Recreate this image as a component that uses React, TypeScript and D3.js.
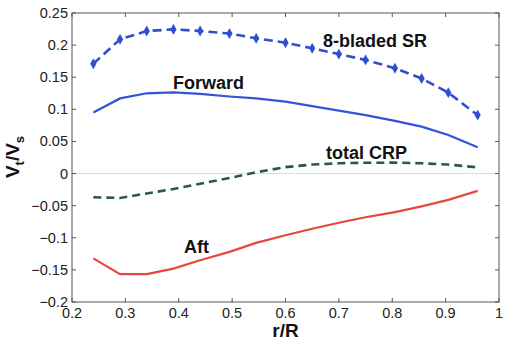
import { useEffect, useRef } from 'react';
import * as d3 from 'd3';

// r/R stations
const rR = [0.24, 0.29, 0.34, 0.39, 0.44, 0.495, 0.545, 0.6, 0.65, 0.7, 0.75, 0.805, 0.855, 0.905, 0.96];
// Vt/Vs for each curve
const sr8 = [0.171, 0.209, 0.222, 0.2245, 0.222, 0.218, 0.2106, 0.2037, 0.195, 0.186, 0.177, 0.164, 0.148, 0.126, 0.091];
const forward = [0.095, 0.117, 0.125, 0.1265, 0.124, 0.12, 0.117, 0.112, 0.105, 0.098, 0.091, 0.082, 0.073, 0.06, 0.041];
const totalCRP = [-0.037, -0.038, -0.031, -0.024, -0.016, -0.007, 0.002, 0.01, 0.014, 0.016, 0.0168, 0.017, 0.016, 0.014, 0.0097];
const aft = [-0.132, -0.1566, -0.1566, -0.148, -0.135, -0.122, -0.108, -0.096, -0.086, -0.0766, -0.068, -0.06, -0.051, -0.041, -0.027];

const xTicks = [0.2, 0.3, 0.4, 0.5, 0.6, 0.7, 0.8, 0.9, 1];
const yTicks = [-0.2, -0.15, -0.1, -0.05, 0, 0.05, 0.1, 0.15, 0.2, 0.25];

export default function App() {
  const ref = useRef<SVGSVGElement>(null);

  useEffect(() => {
    const svg = d3.select(ref.current);
    svg.selectAll('*').remove();

    const left = 72, right = 499, top = 13, bottom = 302;
    const x = d3.scaleLinear().domain([0.2, 1]).range([left, right]);
    const y = d3.scaleLinear().domain([-0.2, 0.25]).range([bottom, top]);

    const font = 'Arial, "Liberation Sans", sans-serif';

    // zero line
    svg.append('line')
      .attr('x1', left).attr('x2', right)
      .attr('y1', y(0)).attr('y2', y(0))
      .attr('stroke', '#e4d6dc').attr('stroke-width', 1);

    const line = d3.line<number>()
      .x((d, i) => x(rR[i]))
      .y((d) => y(d));

    const series = [
      { data: sr8, color: '#2f4fd0', dash: '9,5', width: 2.6 },
      { data: forward, color: '#3553d6', dash: null, width: 2.2 },
      { data: totalCRP, color: '#2e5a3c', dash: '8,5', width: 2.6 },
      { data: aft, color: '#e5483e', dash: null, width: 2.2 },
    ];

    series.forEach((s) => {
      svg.append('path')
        .datum(s.data)
        .attr('fill', 'none')
        .attr('stroke', s.color)
        .attr('stroke-width', s.width)
        .attr('stroke-dasharray', s.dash)
        .attr('d', line);
    });

    // markers on the 8-bladed SR curve
    const marker = d3.symbol().type(d3.symbolDiamond).size(34);
    svg.append('g')
      .selectAll('path')
      .data(sr8)
      .enter()
      .append('path')
      .attr('transform', (d, i) => `translate(${x(rR[i])},${y(d)})`)
      .attr('d', marker)
      .attr('fill', '#2f4fd0');

    // axes box
    const axis = svg.append('g').attr('stroke', '#555').attr('stroke-width', 1);
    axis.append('rect')
      .attr('x', left).attr('y', top)
      .attr('width', right - left).attr('height', bottom - top)
      .attr('fill', 'none');

    xTicks.forEach((t) => {
      axis.append('line').attr('x1', x(t)).attr('x2', x(t)).attr('y1', bottom).attr('y2', bottom - 4);
      axis.append('line').attr('x1', x(t)).attr('x2', x(t)).attr('y1', top).attr('y2', top + 4);
    });
    yTicks.forEach((t) => {
      axis.append('line').attr('x1', left).attr('x2', left + 4).attr('y1', y(t)).attr('y2', y(t));
      axis.append('line').attr('x1', right).attr('x2', right - 4).attr('y1', y(t)).attr('y2', y(t));
    });

    svg.append('g')
      .selectAll('text')
      .data(xTicks)
      .enter()
      .append('text')
      .attr('x', (d) => x(d))
      .attr('y', bottom + 16)
      .attr('text-anchor', 'middle')
      .attr('font-family', font)
      .attr('font-size', 14.5)
      .attr('fill', '#222')
      .text((d) => d3.format('~g')(d));

    svg.append('g')
      .selectAll('text')
      .data(yTicks)
      .enter()
      .append('text')
      .attr('x', left - 4)
      .attr('y', (d) => y(d) + 5)
      .attr('text-anchor', 'end')
      .attr('font-family', font)
      .attr('font-size', 14.5)
      .attr('fill', '#222')
      .text((d) => d3.format('~g')(d));

    // curve labels
    const labels = [
      { t: '8-bladed SR', x: 323, y: 47 },
      { t: 'Forward', x: 173, y: 89 },
      { t: 'total CRP', x: 326, y: 159 },
      { t: 'Aft', x: 184, y: 253 },
    ];
    labels.forEach((l) => {
      svg.append('text')
        .attr('x', l.x).attr('y', l.y)
        .attr('font-family', font)
        .attr('font-size', 18)
        .attr('font-weight', 'bold')
        .attr('fill', '#111')
        .text(l.t);
    });

    // axis titles
    svg.append('text')
      .attr('x', (left + right) / 2).attr('y', 337)
      .attr('text-anchor', 'middle')
      .attr('font-family', font)
      .attr('font-size', 19)
      .attr('font-weight', 'bold')
      .attr('fill', '#111')
      .text('r/R');

    const yl = svg.append('text')
      .attr('transform', 'translate(19,157) rotate(-90)')
      .attr('text-anchor', 'middle')
      .attr('font-family', font)
      .attr('font-size', 19)
      .attr('font-weight', 'bold')
      .attr('fill', '#111');
    yl.append('tspan').text('V');
    yl.append('tspan').attr('dy', 5).attr('font-size', 13).text('t');
    yl.append('tspan').attr('dy', -5).text('/V');
    yl.append('tspan').attr('dy', 5).attr('font-size', 13).text('s');
  }, []);

  return (
    <svg
      ref={ref}
      width={508}
      height={346}
      style={{ position: 'absolute', left: 0, top: 0, background: '#fff' }}
    />
  );
}
